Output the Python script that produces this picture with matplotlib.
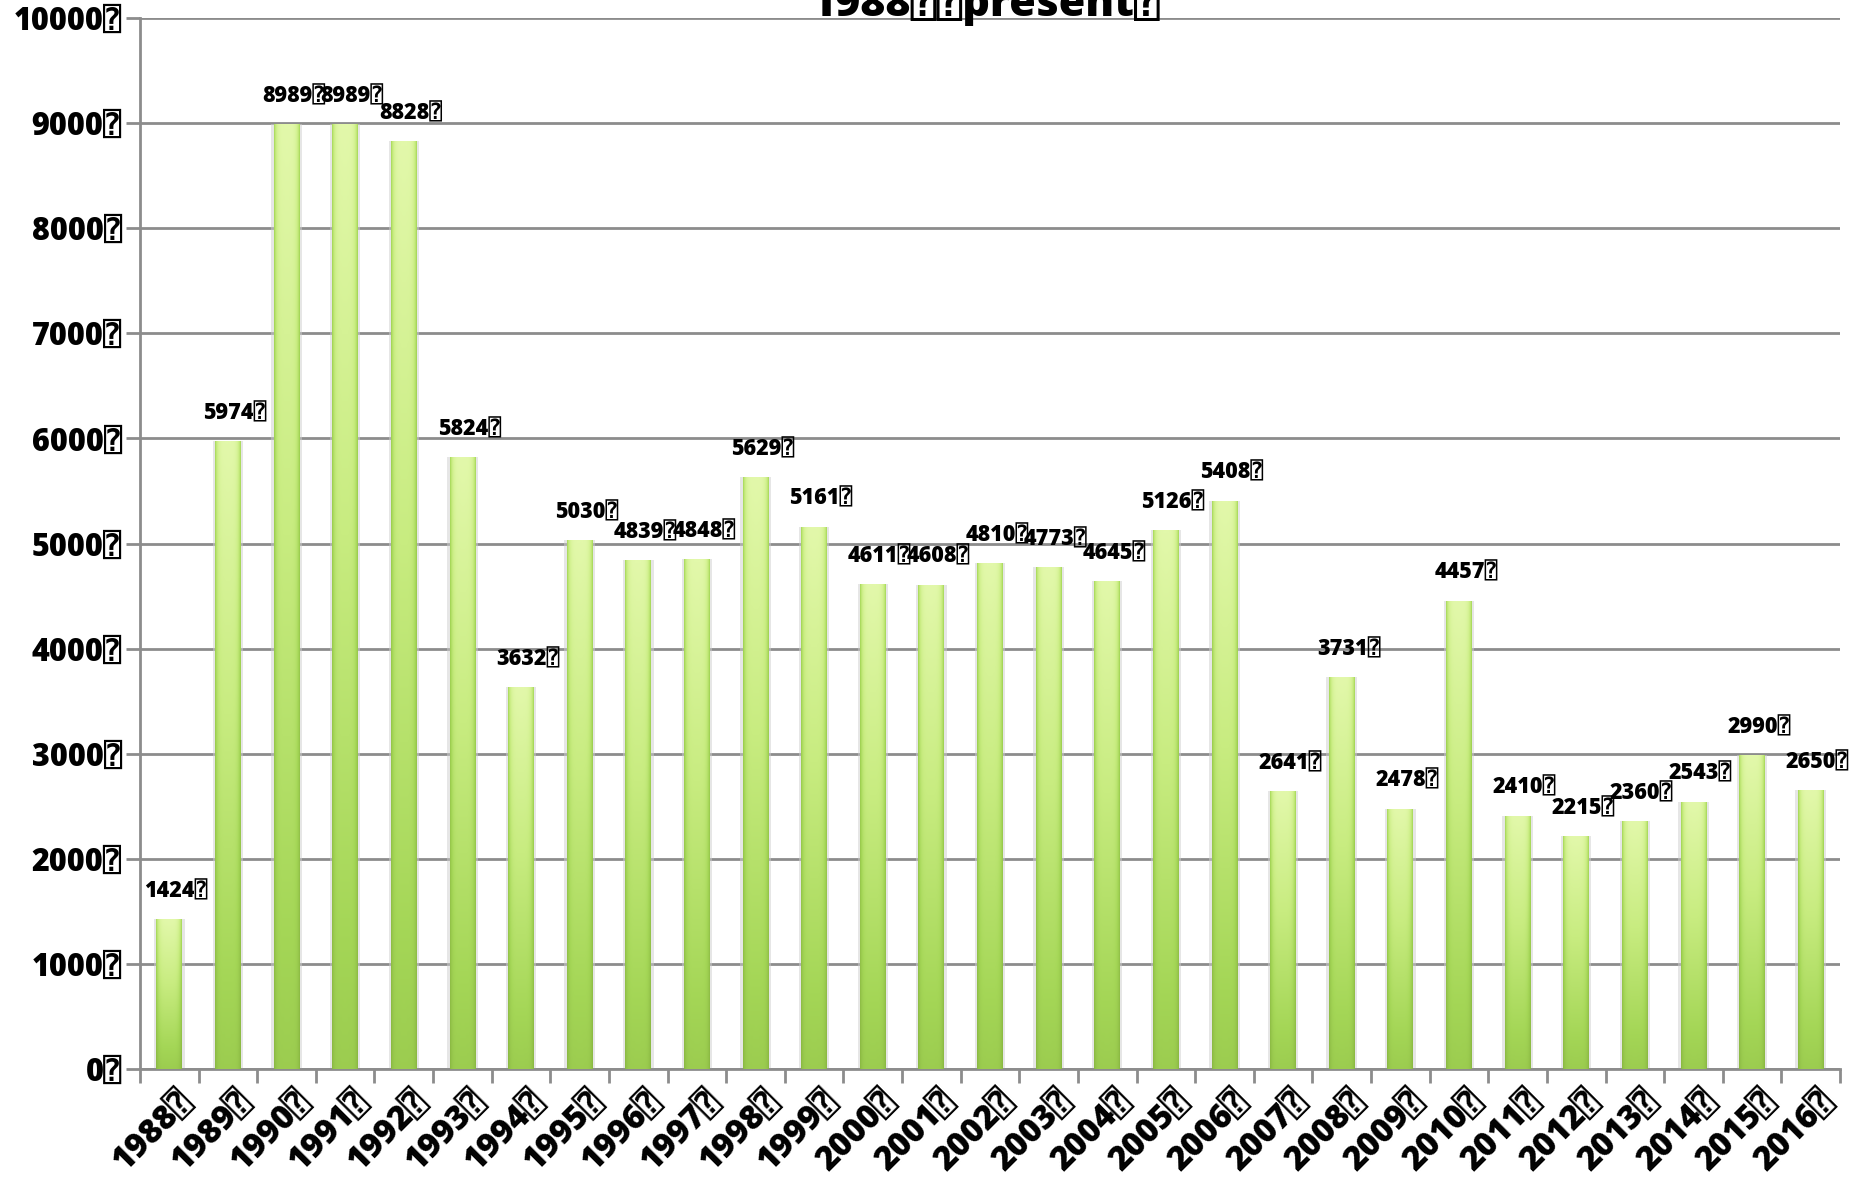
import numpy as np
import matplotlib
matplotlib.use('Agg')
import matplotlib.pyplot as plt
from matplotlib.colors import LinearSegmentedColormap
from matplotlib.transforms import ScaledTranslation

TOFU = '\u2370'
plt.rcParams['font.family'] = ['Open Sans', 'DejaVu Sans', 'DejaVu Sans Mono']

years = list(range(1988, 2017))
valores = [1424, 5974, 8989, 8989, 8828, 5824, 3632, 5030, 4839, 4848, 5629, 5161,
           4611, 4608, 4810, 4773, 4645, 5126, 5408, 2641, 3731, 2478, 4457, 2410,
           2215, 2360, 2543, 2990, 2650]
rotulos_x = [str(a) + TOFU for a in years]
rotulos_y = [str(v) + TOFU for v in range(0, 10001, 1000)]
titulo = '1988' + TOFU + TOFU + 'present' + TOFU

fig = plt.figure(figsize=(18.66, 11.82), dpi=100)
ax = fig.add_axes([140/1866, 1 - 1069/1182, 1700/1866, (1069-18)/1182])

x = np.arange(len(years))
barras = ax.bar(x, valores, width=0.44, color='#b4e06a', zorder=3)

# gradiente: claro no topo, verde embaixo, bordas mais escuras
cmap = LinearSegmentedColormap.from_list('g', ['#8ab842', '#a4d656', '#c8ec80', '#e2f8aa'])
gy = np.linspace(0, 1, 100)[:, None]
gx = np.linspace(-1, 1, 40)[None, :]
img = gy * (1 - 0.5 * gx**4) - 0.3 * gx**6
for b in barras:
    b.set_edgecolor('none')
    bx, by = b.get_x(), b.get_y()
    w, h = b.get_width(), b.get_height()
    # sombra
    ax.bar(bx + w/2, h, width=w + 0.08, color='#cfcfcf', alpha=0.5, zorder=2)
    im = ax.imshow(img, cmap=cmap, vmin=-0.3, vmax=1, aspect='auto', origin='lower',
                   extent=[bx, bx + w, by, by + h], zorder=4, interpolation='bilinear')
    im.set_clip_path(b)

for xi, v in zip(x, valores):
    ax.annotate(str(v) + TOFU, (xi, v), xytext=(5, 20), textcoords='offset points',
                ha='center', va='center', fontsize=15.5, fontweight='heavy', zorder=5)

ax.set_xlim(-0.5, len(years) - 0.5)
ax.set_ylim(0, 10000)
ax.set_yticks(range(0, 10001, 1000))
ax.set_yticklabels(rotulos_y, fontsize=22, fontweight='heavy')
ax.set_xticks(x)
ax.set_xticklabels(rotulos_x, fontsize=24, fontweight='heavy', rotation=45,
                   ha='right', va='center', rotation_mode='anchor')

ax.set_xticks(np.arange(-0.5, len(years)), minor=True)
ax.tick_params(axis='x', which='major', length=0, pad=0)
ax.tick_params(axis='x', which='minor', length=10, width=2, color='#8c8c8c')
ax.tick_params(axis='y', length=10, width=2, color='#8c8c8c', pad=3)

# desloca os rótulos do eixo x (depois do tick_params, que refaz as transformações)
off = ScaledTranslation(19/100, -27/100, fig.dpi_scale_trans)
for lab in ax.get_xticklabels():
    lab.set_transform(lab.get_transform() + off)

ax.grid(axis='y', color='#8c8c8c', linewidth=2, zorder=1)
for s in ['top', 'right']:
    ax.spines[s].set_visible(False)
for s in ['left', 'bottom']:
    ax.spines[s].set_color('#8c8c8c')
    ax.spines[s].set_linewidth(2)

fig.text(985/1866, 1 - 16/1182, titulo, ha='center', va='baseline',
         fontsize=31, fontweight='heavy')

fig.savefig('out.png', dpi=100)
